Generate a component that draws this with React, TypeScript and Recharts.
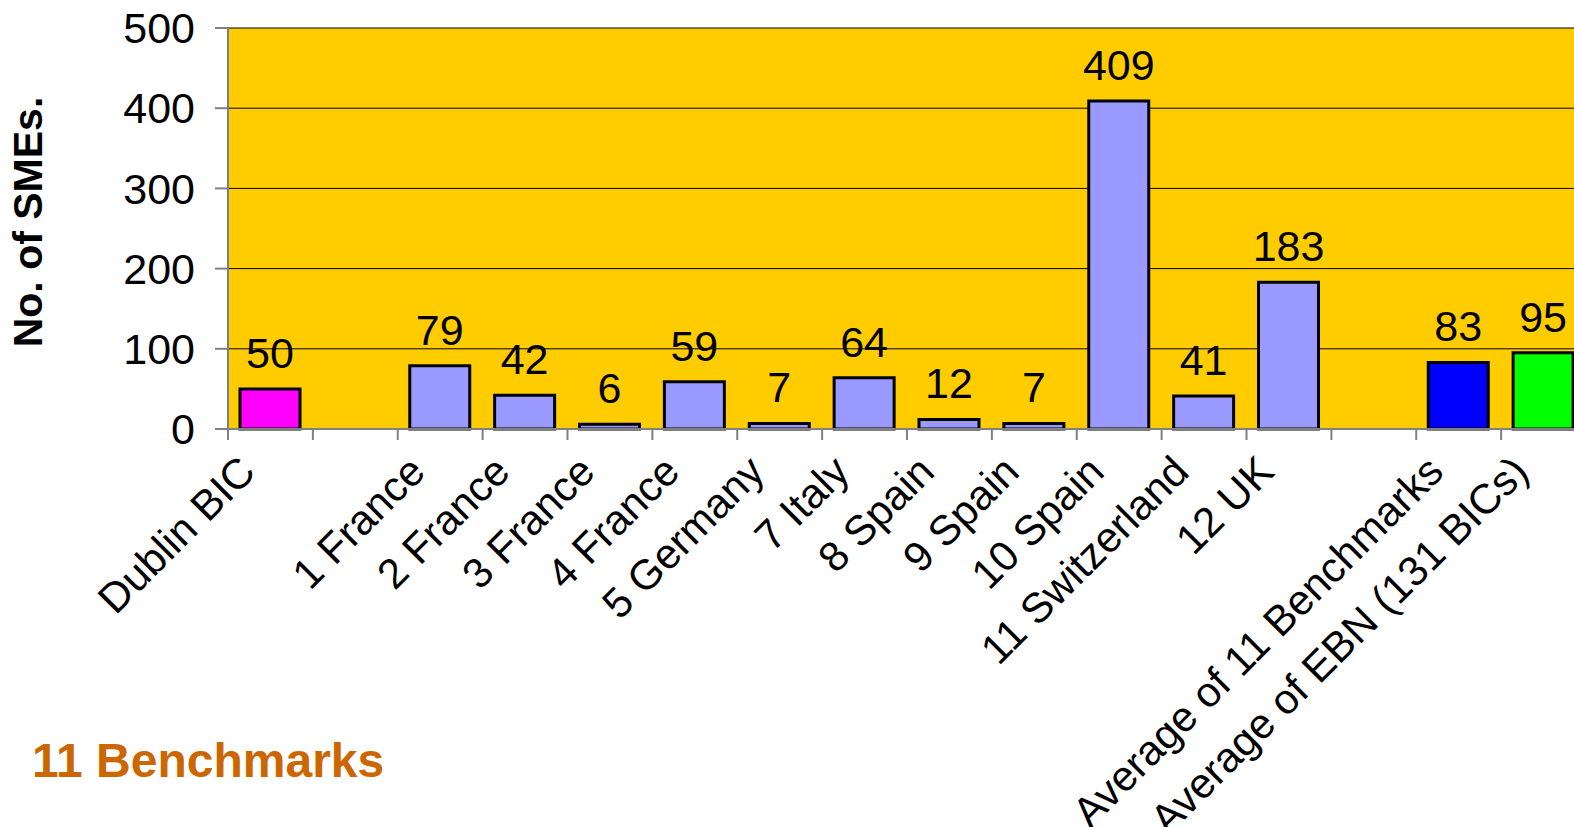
import React from 'react';
import { BarChart, Bar, XAxis, YAxis, CartesianGrid, Cell, LabelList } from 'recharts';

const categories = [
  'Dublin BIC', ' ', '1 France', '2 France', '3 France', '4 France', '5 Germany', '7 Italy',
  '8 Spain', '9 Spain', '10 Spain', '11 Switzerland', '12 UK', '  ',
  'Average of 11 Benchmarks', 'Average of EBN (131 BICs)',
];
const smeValues: (number | null)[] = [50, null, 79, 42, 6, 59, 7, 64, 12, 7, 409, 41, 183, null, 83, 95];
const barColors = [
  '#FF00FF', '#9999FF', '#9999FF', '#9999FF', '#9999FF', '#9999FF', '#9999FF', '#9999FF',
  '#9999FF', '#9999FF', '#9999FF', '#9999FF', '#9999FF', '#9999FF', '#0000FF', '#00FF00',
];
const yTicks = [0, 100, 200, 300, 400, 500];

const data = categories.map((name, i) => ({ name, value: smeValues[i] }));

const FONT = '"Liberation Sans", Arial, Helvetica, sans-serif';
const CHART_W = 1600;
const CHART_H = 827;
const MARGIN = { top: 28, right: 14, bottom: 0, left: 0 };
const Y_W = 228;
const PLOT_W = CHART_W - MARGIN.left - MARGIN.right - Y_W;
const BAND = PLOT_W / categories.length;

const CategoryTick = (props: any) => {
  const { x, y, payload } = props;
  const tx = x - 13;
  const ty = y + 45;
  return (
    <g>
      <line x1={x - BAND / 2} x2={x - BAND / 2} y1={y} y2={y + 11} stroke="#808080" strokeWidth={2} />
      <text
        x={tx}
        y={ty}
        textAnchor="end"
        transform={`rotate(-45, ${tx}, ${ty})`}
        fontSize={42}
        fontFamily={FONT}
        fill="#000"
      >
        {String(payload.value).trim()}
      </text>
    </g>
  );
};

export default function App() {
  return (
    <div style={{ position: 'fixed', left: 0, top: 0, width: 1574, height: 827, overflow: 'hidden', background: '#fff' }}>
      <BarChart width={CHART_W} height={CHART_H} data={data} margin={MARGIN}>
        <CartesianGrid vertical={false} stroke="#000" strokeWidth={1} fill="#FFCC00" />
        <XAxis
          dataKey="name"
          height={CHART_H - 429 - MARGIN.bottom}
          interval={0}
          tickSize={0}
          tickMargin={0}
          axisLine={{ stroke: '#808080', strokeWidth: 2 }}
          tickLine={false}
          tick={<CategoryTick />}
        />
        <YAxis
          width={Y_W}
          domain={[0, 500]}
          ticks={yTicks}
          interval={0}
          tickSize={13}
          tickMargin={20}
          axisLine={{ stroke: '#808080', strokeWidth: 2 }}
          tickLine={{ stroke: '#808080', strokeWidth: 2 }}
          tick={{ fontSize: 43, fontFamily: FONT, fill: '#000' }}
        />
        <Bar dataKey="value" barSize={60} stroke="#000" strokeWidth={3} isAnimationActive={false}>
          {data.map((d, i) => (
            <Cell key={i} fill={barColors[i]} />
          ))}
          <LabelList dataKey="value" position="top" offset={21} fontSize={43} fontFamily={FONT} fill="#000" />
        </Bar>
      </BarChart>
      <div
        style={{
          position: 'absolute',
          left: 28,
          top: 222,
          transform: 'translate(-50%, -50%) rotate(-90deg)',
          whiteSpace: 'nowrap',
          fontFamily: FONT,
          fontWeight: 'bold',
          fontSize: 41,
          lineHeight: 1,
          color: '#000',
        }}
      >
        No. of SMEs.
      </div>
      <div
        style={{
          position: 'absolute',
          left: 32,
          top: 737,
          whiteSpace: 'nowrap',
          fontFamily: FONT,
          fontWeight: 'bold',
          fontSize: 48,
          lineHeight: 1,
          color: '#CC6600',
        }}
      >
        11 Benchmarks
      </div>
    </div>
  );
}
